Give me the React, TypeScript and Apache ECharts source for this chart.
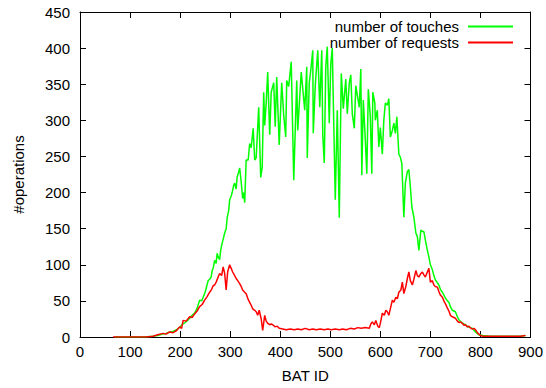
import React, { useEffect, useRef } from "react";
import * as echarts from "echarts";

const xTicks = { min: 0, max: 900, interval: 100 };
const yTicks = { min: 0, max: 450, interval: 50 };

const touchBatIds = [70,90,110,130,145,155,165,172,180,187,193,200,205,210,215,219,224,229,234,239,243,246,250,253,256,259,262,264,266,269,272,274,276,279,281,284,287,289,292,294,297,299,302,304,307,309,312,314,317,319,322,325,327,329,332,336,339,342,346,349,352,357,361,364,367,369,372,375,379,382,387,390,393,398,403,407,411,413,417,422,427,433,435,442,449,453,454,458,461,465,466,470,475,479,483,485,488,491,494,498,501,504,510,514,518,522,526,531,534,538,541,544,548,551,554,558,561,563,566,570,573,576,580,583,585,589,590,594,597,600,604,607,610,614,617,620,624,627,630,633,637,640,643,647,650,654,657,660,663,667,671,674,677,681,684,687,690,694,697,700,704,707,710,714,717,720,724,727,730,734,737,740,744,747,750,754,757,762,767,770,775,780,784,790,797,805,820,840,860,880,890];
const touchCounts = [0,0,0,0,1,2,4,5,7,8,10,14,18,20,23,26,30,33,40,51,50,55,62,70,78,80,83,92,95,106,102,116,111,107,120,130,138,144,150,165,175,190,195,200,210,213,205,222,228,234,215,192,200,186,245,245,268,262,289,245,248,318,221,235,339,293,324,367,280,339,352,291,360,266,352,307,277,355,347,381,217,355,286,367,314,374,248,352,369,397,282,348,397,318,397,280,241,374,402,296,378,400,190,314,165,365,316,357,309,352,363,309,289,348,335,318,371,224,328,273,226,343,305,226,339,324,300,314,263,290,253,300,324,321,330,277,286,296,282,305,253,249,240,166,213,229,232,208,180,166,144,139,120,148,146,146,134,120,111,100,93,85,79,75,72,66,62,58,54,50,48,42,37,36,35,28,24,20,18,17,14,13,12,7,3,2,1,1,1,1,2];

const requestBatIds = [66,90,110,133,146,155,166,172,179,186,193,199,203,206,212,219,224,229,234,239,244,249,254,259,263,266,269,272,276,279,283,286,289,292,295,299,302,305,309,312,315,319,322,325,329,332,336,339,342,345,349,352,355,358,362,365,369,372,375,379,382,385,390,394,398,405,412,420,428,435,442,450,458,465,472,480,488,495,502,510,518,525,532,540,548,555,562,570,578,581,584,588,591,595,598,601,604,608,611,614,617,621,624,627,631,634,637,641,644,647,651,654,657,660,664,667,671,674,677,681,684,687,690,694,697,700,704,707,710,714,717,720,724,727,730,734,737,740,744,747,750,754,757,760,764,767,770,774,777,781,784,787,790,794,797,800,805,820,840,860,880,890];
const requestCounts = [0,0,0,0,1,3,5,4,7,6,9,14,12,23,22,28,27,32,36,42,45,51,56,62,66,71,72,76,83,88,85,97,88,65,90,100,95,90,85,81,78,74,70,65,62,60,52,48,44,39,37,35,30,37,25,9,30,22,19,17,18,17,14,15,12,11,10,11,10,11,10,12,10,11,10,11,10,11,10,11,10,11,10,12,11,13,12,13,12,18,21,17,23,15,13,22,33,30,37,35,30,42,51,48,55,53,62,65,76,60,70,81,90,78,72,80,92,85,83,88,90,86,83,90,95,76,78,72,70,69,63,58,55,50,46,40,36,30,28,27,26,22,20,21,19,16,17,14,15,12,11,12,10,6,4,2,1,1,1,1,1,2];

const seriesNames = ["number of touches", "number of requests"];
const seriesColors = ["#00ff00", "#ff0000"];

const FONT = "Liberation Sans, Arial, sans-serif";

export default function App() {
  const ref = useRef<HTMLDivElement>(null);
  useEffect(() => {
    if (!ref.current) return;
    const chart = echarts.init(ref.current, null, { renderer: "svg" });
    const touches = touchBatIds.map((x, i) => [x, touchCounts[i]]);
    const requests = requestBatIds.map((x, i) => [x, requestCounts[i]]);
    const axisLine = { show: true, onZero: false, lineStyle: { color: "#000", width: 1 } };
    const tick = { show: true, inside: true, length: 6, lineStyle: { color: "#000", width: 1 } };
    const label = { color: "#000", fontSize: 15, fontFamily: FONT };
    chart.setOption({
      animation: false,
      backgroundColor: "#fff",
      grid: { left: 80, right: 14, top: 12, bottom: 51, containLabel: false },
      legend: seriesNames.map((n, i) => ({
        data: [{ name: n, icon: "rect" }],
        orient: "vertical",
        right: 33,
        top: 19 + i * 16,
        align: "right",
        itemWidth: 45,
        itemHeight: 2,
        padding: 0,
        selectedMode: false,
        textStyle: { color: "#000", fontSize: 15, fontFamily: FONT, padding: [0, 4, 0, 0] },
      })),
      xAxis: [
        {
          type: "value", ...xTicks, position: "bottom",
          axisLine, axisTick: tick, splitLine: { show: false },
          axisLabel: { ...label, margin: 7 },
          name: "BAT ID", nameLocation: "middle", nameGap: 31,
          nameTextStyle: { ...label },
        },
        {
          type: "value", ...xTicks, position: "top",
          axisLine, axisTick: tick, splitLine: { show: false },
          axisLabel: { show: false },
        },
      ],
      yAxis: [
        {
          type: "value", ...yTicks, position: "left",
          axisLine, axisTick: tick, splitLine: { show: false },
          axisLabel: { ...label, margin: 10 },
          name: "#operations", nameLocation: "middle", nameGap: 54, nameRotate: 90,
          nameTextStyle: { ...label },
        },
        {
          type: "value", ...yTicks, position: "right",
          axisLine, axisTick: tick, splitLine: { show: false },
          axisLabel: { show: false },
        },
      ],
      series: [
        {
          name: seriesNames[0], type: "line", data: touches, symbol: "none",
          lineStyle: { color: seriesColors[0], width: 1.5 }, itemStyle: { color: seriesColors[0] },
        },
        {
          name: seriesNames[1], type: "line", data: requests, symbol: "none",
          lineStyle: { color: seriesColors[1], width: 1.5 }, itemStyle: { color: seriesColors[1] },
        },
      ],
    });
    return () => chart.dispose();
  }, []);
  return <div ref={ref} style={{ width: 546, height: 388, position: "absolute", left: 0, top: 0 }} />;
}
